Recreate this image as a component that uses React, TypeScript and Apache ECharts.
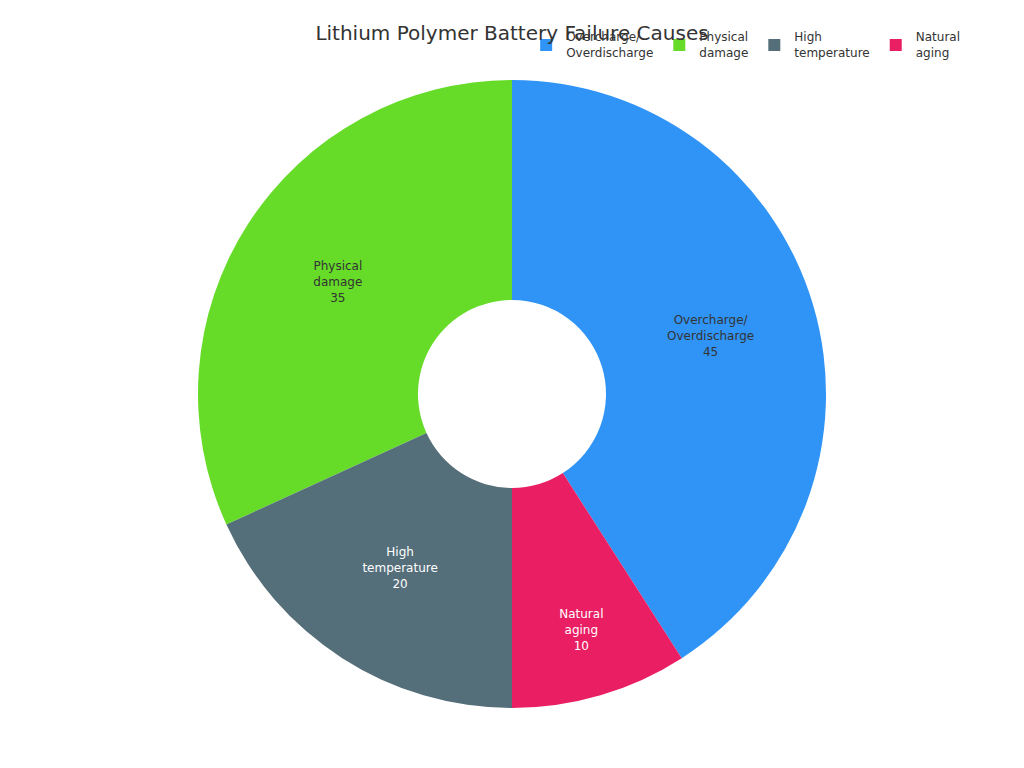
import * as React from "react";
import * as echarts from "echarts";

const categories = [
  "Overcharge/\nOverdischarge",
  "Physical\ndamage",
  "High\ntemperature",
  "Natural\naging",
];
const values = [45, 35, 20, 10];
const colors = ["#3094f7", "#66dc29", "#546e7a", "#e91e63"];
const labelColors = ["#333333", "#333333", "#ffffff", "#ffffff"];
// the small slice's label sits further out in the ring
const labelOffsets = [[0, 0], [0, 0], [0, 0], [11, 37]];

export default function App() {
  const chartRef = React.useRef<HTMLDivElement | null>(null);

  React.useEffect(() => {
    if (!chartRef.current) return;
    const chart = echarts.init(chartRef.current, undefined, { renderer: "svg" });

    chart.setOption({
      animation: false,
      textStyle: { fontFamily: "DejaVu Sans" },
      title: {
        text: "Lithium Polymer Battery Failure Causes",
        left: "center",
        top: 18,
        textStyle: { fontSize: 20, fontWeight: "normal", color: "#333333", fontFamily: "DejaVu Sans" },
      },
      legend: {
        right: 59,
        top: 24,
        icon: "rect",
        itemWidth: 12,
        itemHeight: 12,
        itemGap: 20,
        textStyle: {
          fontSize: 12,
          color: "#333333",
          lineHeight: 16,
          padding: [0, 0, 0, 9],
          fontFamily: "DejaVu Sans",
        },
        data: categories,
      },
      series: [
        {
          type: "pie",
          center: ["50%", 394],
          radius: [94, 314],
          // first slice ends at 12 o'clock, slices run counter-clockwise
          startAngle: 302.73,
          clockwise: false,
          label: {
            show: true,
            position: "inside",
            fontSize: 12,
            lineHeight: 16,
            fontFamily: "DejaVu Sans",
            formatter: "{b}\n{c}",
          },
          labelLine: { show: false },
          emphasis: { disabled: true },
          data: categories.map((name, i) => ({
            name,
            value: values[i],
            itemStyle: { color: colors[i] },
            label: { color: labelColors[i], offset: labelOffsets[i] },
          })),
        },
      ],
    });

    return () => {
      chart.dispose();
    };
  }, []);

  return (
    <div
      ref={chartRef}
      style={{ position: "absolute", left: 0, top: 0, width: 1024, height: 768 }}
    />
  );
}
